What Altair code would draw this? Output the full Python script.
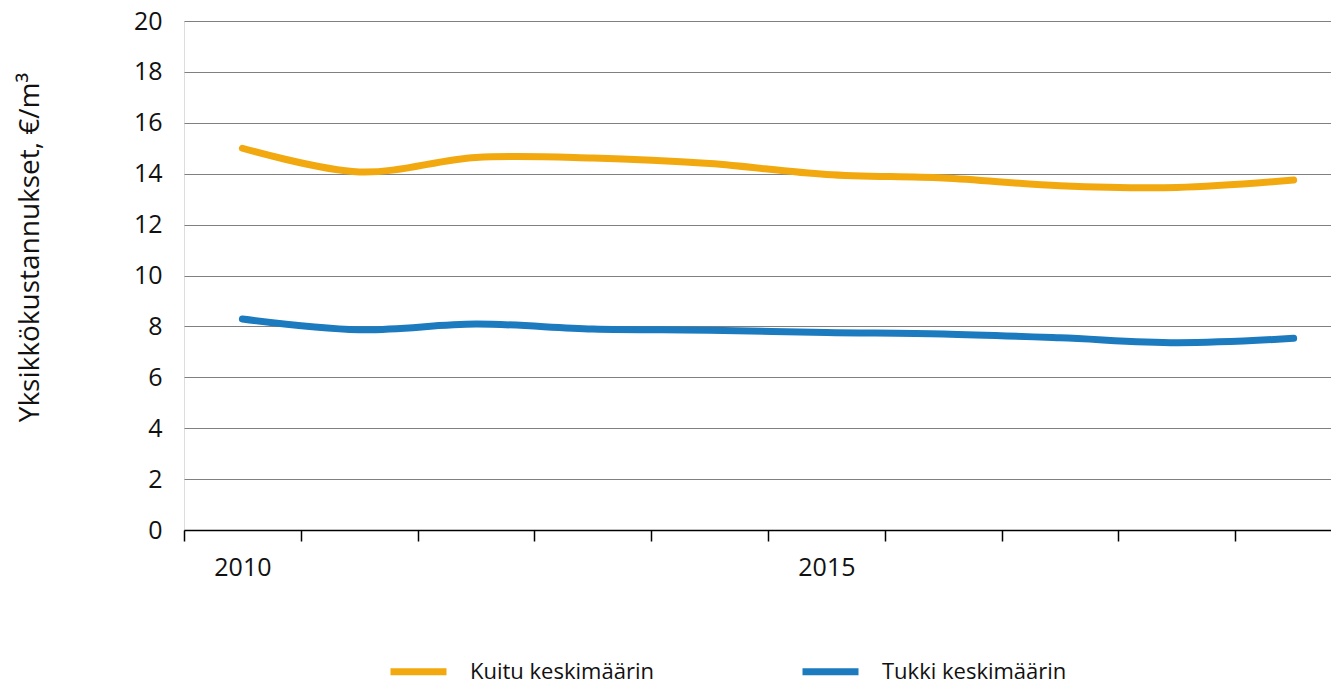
import altair as alt
import pandas as pd

years = [2010, 2011, 2012, 2013, 2014, 2015, 2016, 2017, 2018, 2019]
kuitu = [15.0, 14.07, 14.64, 14.62, 14.4, 13.97, 13.83, 13.53, 13.46, 13.75]
tukki = [8.29, 7.87, 8.09, 7.9, 7.85, 7.76, 7.7, 7.55, 7.36, 7.53]
series_names = ["Kuitu keskimäärin", "Tukki keskimäärin"]
series_colors = ["#F2A90F", "#1B7BBE"]
y_ticks = list(range(0, 21, 2))

rows = []
for name, vals in zip(series_names, [kuitu, tukki]):
    for yr, v in zip(years, vals):
        rows.append({"Vuosi": yr, "Arvo": v, "Sarja": name})
df = pd.DataFrame(rows)

FONT = "Open Sans"
W = 1147
x_min, x_max = 2009.5, 2019.32
half_band = W / (x_max - x_min) / 2

chart = alt.Chart(df).mark_line(
    strokeWidth=7, strokeCap="round", interpolate="catmull-rom"
).encode(
    x=alt.X(
        "Vuosi:Q",
        scale=alt.Scale(domain=[x_min, x_max], nice=False, zero=False),
        axis=alt.Axis(
            title=None,
            values=years,
            format="d",
            labelExpr="(datum.value % 5 == 0) ? datum.label : ''",
            tickOffset=-half_band,
            labelOffset=half_band,
            grid=False,
            domainColor="#000000",
            domainWidth=1.5,
            tickColor="#000000",
            tickWidth=1.5,
            tickSize=11,
            labelPadding=14,
            labelFont=FONT,
            labelFontSize=25,
            labelColor="#111111",
            labelFlush=False,
            labelOverlap=False,
        ),
    ),
    y=alt.Y(
        "Arvo:Q",
        scale=alt.Scale(domain=[0, 20], nice=False),
        axis=alt.Axis(
            title="Yksikkökustannukset, €/m³",
            titleFont=FONT,
            titleFontSize=28,
            titleFontWeight="normal",
            titleColor="#111111",
            titleAngle=-90,
            titleAlign="center",
            titleBaseline="alphabetic",
            titleX=-146,
            titleY=226,
            values=y_ticks,
            domain=False,
            ticks=False,
            tickSize=0,
            grid=True,
            gridColor="#808080",
            gridWidth=1,
            labelPadding=22,
            labelFont=FONT,
            labelFontSize=25,
            labelColor="#111111",
        ),
    ),
    color=alt.Color(
        "Sarja:N",
        scale=alt.Scale(domain=series_names, range=series_colors),
        legend=alt.Legend(
            title=None,
            orient="none",
            direction="horizontal",
            legendX=203,
            legendY=619,
            symbolType="stroke",
            symbolSize=3136,
            symbolStrokeWidth=7,
            labelOffset=20,
            columnPadding=134,
            padding=0,
            labelFont=FONT,
            labelFontSize=22,
            labelColor="#111111",
            labelLimit=400,
        ),
    ),
).properties(
    width=W,
    height=509,
    padding={"left": 176, "top": 13, "right": 0, "bottom": 160},
    autosize="none",
).configure_view(stroke=None).configure(background="white")

chart.save("out.html", embed_options={"renderer": "svg", "actions": False})
